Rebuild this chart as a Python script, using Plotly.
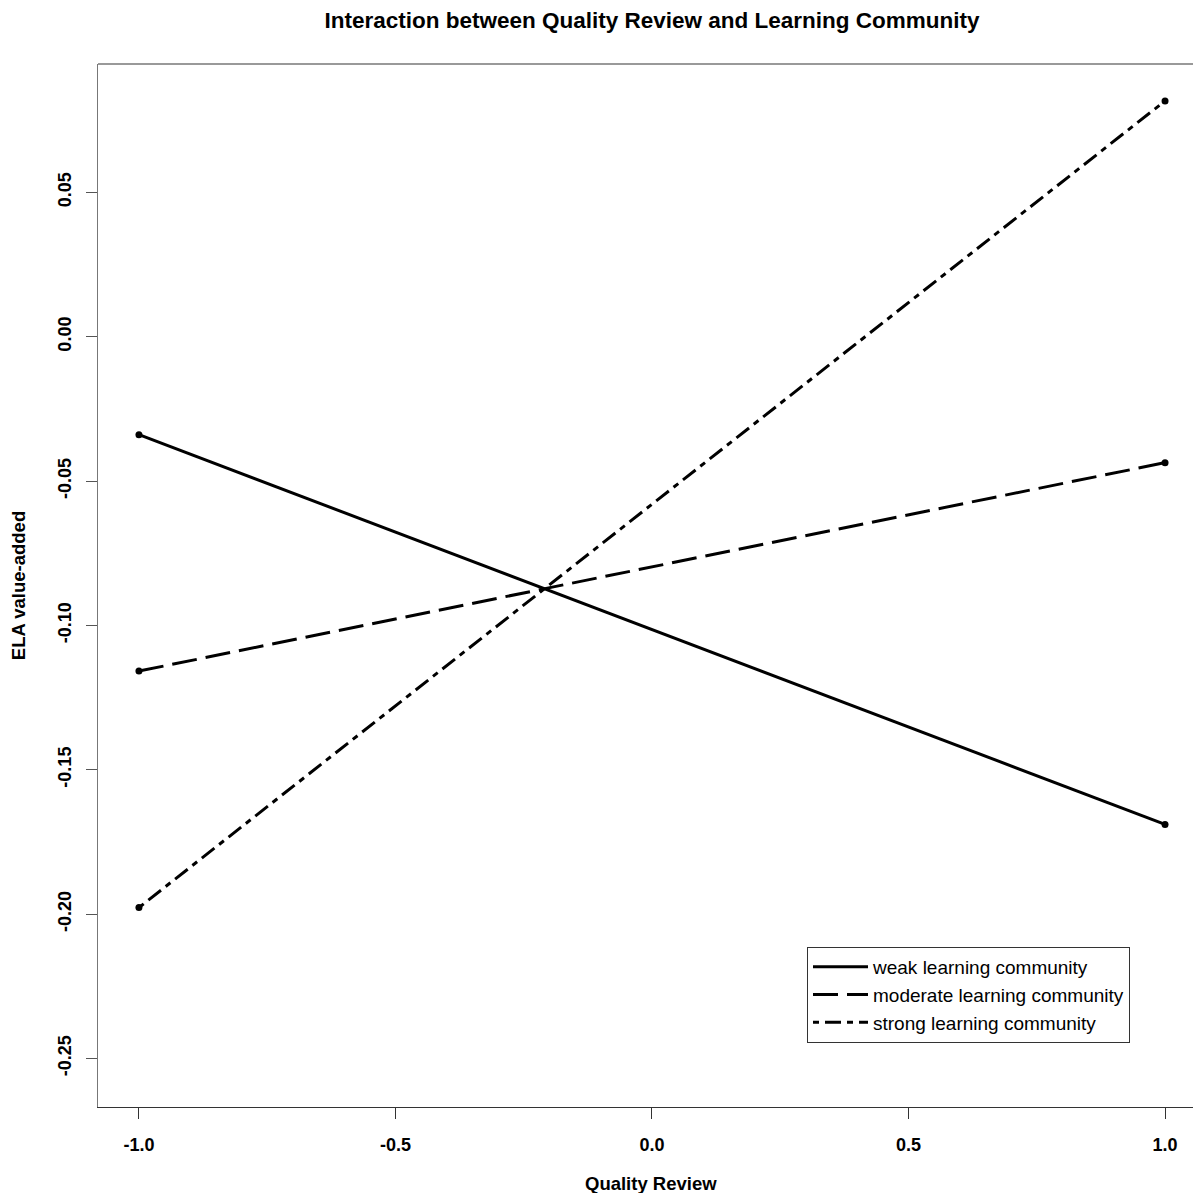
import plotly.graph_objects as go

# Data
x_vals = [-1.0, 1.0]
weak = [-0.0339, -0.1689]
moderate = [-0.1158, -0.0436]
strong = [-0.1977, 0.0817]
series_names = ["weak learning community", "moderate learning community", "strong learning community"]
x_ticks = [-1.0, -0.5, 0.0, 0.5, 1.0]
x_ticklabels = ["-1.0", "-0.5", "0.0", "0.5", "1.0"]
y_ticks = [0.05, 0.0, -0.05, -0.10, -0.15, -0.20, -0.25]
y_ticklabels = ["0.05", "0.00", "-0.05", "-0.10", "-0.15", "-0.20", "-0.25"]

FONT = "Liberation Sans, Arial, Helvetica, sans-serif"

fig = go.Figure()
dashes = ["solid", "25px,9px", "6px,6px,16px,6px"]
for name, vals, dash in zip(series_names, [weak, moderate, strong], dashes):
    fig.add_trace(go.Scatter(
        x=x_vals, y=vals, mode="lines", name=name,
        line=dict(color="black", width=3, dash=dash),
    ))
for name, vals in zip(series_names, [weak, moderate, strong]):
    fig.add_trace(go.Scatter(
        x=x_vals, y=vals, mode="markers", name=name, showlegend=False,
        marker=dict(color="black", size=7, symbol="circle"),
    ))

W = 1185
H = 1185
fig.update_layout(
    width=W, height=H,
    margin=dict(l=90, r=0, t=56, b=86, autoexpand=False),
    plot_bgcolor="white", paper_bgcolor="white",
    font=dict(family=FONT, color="black"),
    title=dict(text="<b>Interaction between Quality Review and Learning Community</b>",
               x=644 / W, xanchor="center", y=1 - 12 / H, yanchor="middle",
               xref="container", yref="container",
               font=dict(size=22.5, family=FONT, color="black")),
    showlegend=True,
    legend=dict(x=(806 - 97) / 1095, xanchor="left", y=(1106 - 946) / 1043, yanchor="top",
                bordercolor="#333", borderwidth=1, bgcolor="white",
                font=dict(size=19, family=FONT, color="black"),
                tracegroupgap=0, itemwidth=55),
)

fig.update_xaxes(
    range=[-1.0798, 1.0545], tickvals=x_ticks, ticktext=["<b>%s</b>" % t for t in x_ticklabels],
    showgrid=False, zeroline=False, showline=True, linecolor="#333", linewidth=1,
    ticks="outside", ticklen=11, tickcolor="#333", tickwidth=1, automargin=False,
    tickfont=dict(size=18, family=FONT, color="black"), ticklabelstandoff=10,
)
fig.update_yaxes(
    range=[-0.2668, 0.0945], tickvals=y_ticks, ticktext=["<b>%s</b>" % t for t in y_ticklabels],
    showgrid=False, zeroline=False, showline=True, linecolor="#777", linewidth=1,
    ticks="outside", ticklen=11, tickcolor="#555", tickwidth=1, tickangle=-90, automargin=False,
    tickfont=dict(size=18, family=FONT, color="black"), ticklabelstandoff=8,
    title=dict(text="<b>ELA value-added</b>", font=dict(size=18.5, family=FONT, color="black"), standoff=25),
)

fig.add_annotation(text="<b>Quality Review</b>", xref="paper", yref="paper",
                   x=(651 - 97) / 1096, y=0, xanchor="center", yanchor="middle",
                   yshift=-76, showarrow=False,
                   font=dict(size=18.5, family=FONT, color="black"))

fig.add_shape(type="line", xref="paper", yref="paper", x0=0, x1=1, y0=1, y1=1,
              line=dict(color="#999", width=2))

fig.write_html("out.html")
